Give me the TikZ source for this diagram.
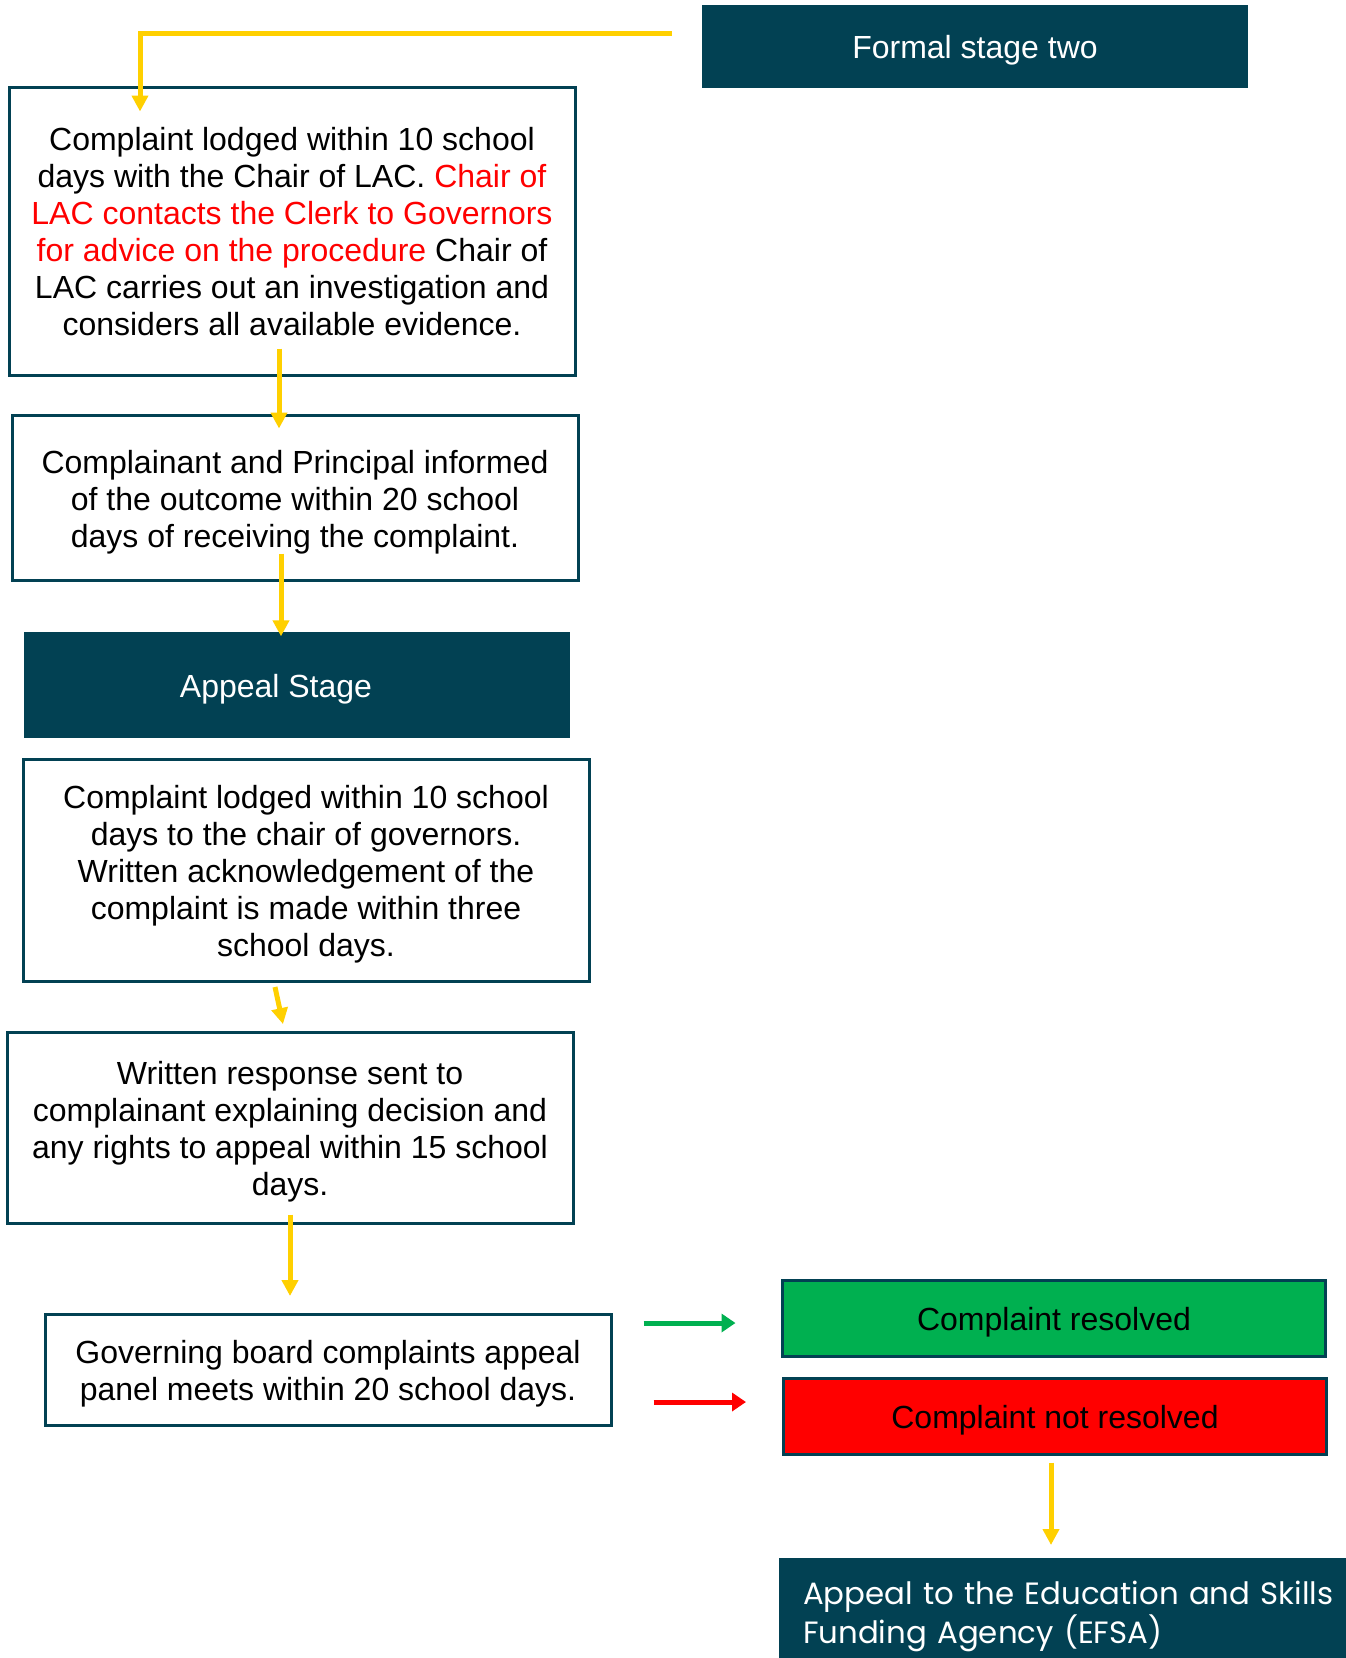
\documentclass[tikz,border=0pt]{standalone}
\usepackage{fontspec}
\setmainfont{Liberation Sans}
\newfontfamily\efsafont{Poppins}
\usepackage{xcolor}
\usetikzlibrary{arrows.meta, positioning, calc}
\definecolor{tealdark}{RGB}{2, 65, 83}
\definecolor{flowyellow}{RGB}{255, 208, 0}
\definecolor{okgreen}{RGB}{0, 176, 80}
\definecolor{badred}{RGB}{255, 0, 0}
\newcommand{\bodyfont}{\fontsize{32}{37}\selectfont}
\newcommand{\topstrut}{\rule{0pt}{31.5pt}}
\newcommand{\botstrut}{\rule[-7pt]{0pt}{7pt}}

\tikzset{
    textbox/.style={draw=tealdark, line width=3pt, fill=white, align=flush center,
        text width=556, font=\bodyfont, inner sep=0pt, minimum width=566,
        execute at begin node=\topstrut, execute at end node=\botstrut},
    stagebox/.style={fill=tealdark, text=white, align=center, font=\bodyfont,
        inner sep=0pt, execute at begin node=\topstrut},
    outcome/.style={draw=tealdark, line width=3pt, align=center, font=\bodyfont,
        inner sep=0pt, minimum width=543, minimum height=76,
        execute at begin node=\topstrut},
    flow/.style={draw=flowyellow, line width=5pt, -{Triangle[width=16pt,length=16pt]}},
    sideflow/.style={line width=5pt, -{Triangle[width=18pt,length=14pt]}},
}

\begin{document}
\begin{tikzpicture}[x=1pt, y=-1pt]
    \useasboundingbox (0,0) rectangle (1346,1658);

    % formal stage two
    \node[stagebox, minimum width=546, minimum height=83] (formal) at (975,46.5) {Formal stage two};
    \coordinate (feed) at ([xshift=-30,yshift=13.5]formal.west);

    \node[textbox, minimum height=288] (lac) at (292,231) {
        Complaint lodged within 10 school\\
        days with the Chair of LAC. \textcolor{badred}{Chair of}\\
        \textcolor{badred}{LAC contacts the Clerk to Governors}\\
        \textcolor{badred}{for advice on the procedure} Chair of\\
        LAC carries out an investigation and\\
        considers all available evidence.};

    \node[textbox, minimum height=165] (informed) at (295,498) {
        Complainant and Principal informed\\
        of the outcome within 20 school\\
        days of receiving the complaint.};

    % appeal stage
    \node[stagebox, minimum width=546, minimum height=106] (appeal) at (297,685) {Appeal Stage\hspace*{42pt}};

    \node[textbox, minimum height=222] (lodged) at (306,870) {
        Complaint lodged within 10 school\\
        days to the chair of governors.\\
        Written acknowledgement of the\\
        complaint is made within three\\
        school days.};

    \node[textbox, minimum height=191] (response) at (290,1127.5) {
        Written response sent to\\
        complainant explaining decision and\\
        any rights to appeal within 15 school\\
        days.};

    \node[textbox, minimum height=111] (panel) at (328,1370) {
        Governing board complaints appeal\\
        panel meets within 20 school days.};

    % outcomes
    \node[outcome, fill=okgreen] (resolved) at (1054,1318.5) {Complaint resolved};
    \node[outcome, fill=badred] (notres) at (1055,1416) {Complaint not resolved};

    \node[fill=tealdark, text=white, anchor=north west, align=left,
        text width=580, inner xsep=24pt, inner ysep=23pt,
        font=\efsafont\fontsize{30.8}{39}\selectfont] (efsa) at (779,1557.5)
        {Appeal to the Education and Skills\\Funding Agency (EFSA)};

    % connectors
    \draw[flow] (feed) -| ([xshift=-152,yshift=-26]lac.north);
    \draw[flow] ([xshift=-13,yshift=28]lac.south) -- ([xshift=-16,yshift=-14.5]informed.north);
    \draw[flow] ([xshift=-14,yshift=28.5]informed.south) -- ([xshift=-16,yshift=-4.5]appeal.north);
    \draw[flow] ([xshift=-31,yshift=-4.5]lodged.south) -- ([xshift=-7,yshift=6.4]response.north);
    \draw[flow] ([yshift=10]response.south) -- ([xshift=-38,yshift=17]panel.north);
    \draw[sideflow, okgreen] ([xshift=31,yshift=47]panel.east) -- ([xshift=-45.5,yshift=-4.5]resolved.west);
    \draw[sideflow, badred] ([xshift=41,yshift=-32]panel.east) -- ([xshift=-36,yshift=14]notres.west);
    \draw[flow] ([xshift=-4,yshift=-7]notres.south) -- ([xshift=272,yshift=12.5]efsa.north west);
\end{tikzpicture}
\end{document}
